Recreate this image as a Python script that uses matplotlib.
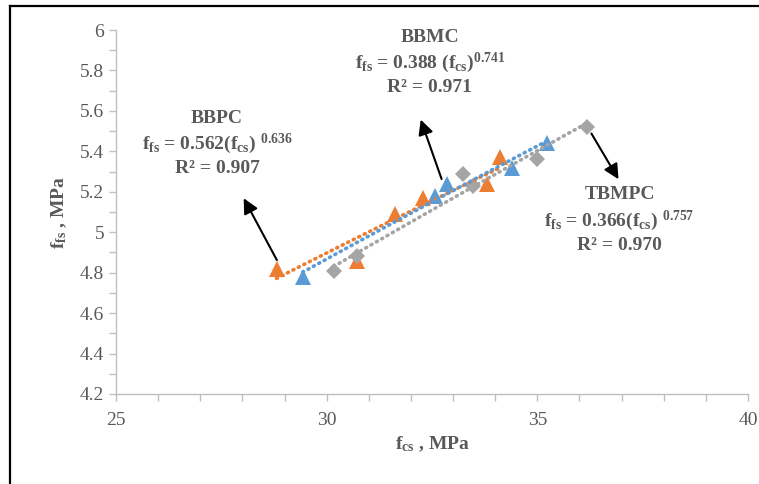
"""Flexural vs compressive strength scatter with power trendlines."""

import numpy as np
import matplotlib

matplotlib.use("Agg")
import matplotlib.pyplot as plt
from matplotlib.lines import Line2D
from matplotlib.ticker import MultipleLocator

plt.rcParams["font.family"] = ["Liberation Serif", "DejaVu Serif"]
plt.rcParams["mathtext.fontset"] = "custom"
plt.rcParams["mathtext.rm"] = "Liberation Serif"
plt.rcParams["mathtext.bf"] = "Liberation Serif:bold"
plt.rcParams["mathtext.default"] = "bf"

# data
bbpc_x = [28.81, 30.71, 31.62, 32.28, 33.80, 34.11]
bbpc_y = [4.82, 4.86, 5.09, 5.17, 5.24, 5.37]
bbmc_x = [29.43, 32.58, 32.85, 34.39, 35.22]
bbmc_y = [4.78, 5.18, 5.24, 5.32, 5.44]
tbmpc_x = [30.17, 30.71, 33.24, 33.47, 34.99, 36.17]
tbmpc_y = [4.81, 4.88, 5.29, 5.23, 5.36, 5.52]

x_ticks = [25, 30, 35, 40]
y_ticks = [4.2, 4.4, 4.6, 4.8, 5.0, 5.2, 5.4, 5.6, 5.8, 6.0]
y_tick_labels = ["4.2", "4.4", "4.6", "4.8", "5", "5.2", "5.4", "5.6", "5.8", "6"]

ORANGE = "#ED7D31"
BLUE = "#5B9BD5"
GRAY = "#A5A5A5"
TEXT = "#595959"
AXIS = "#BFBFBF"

fig = plt.figure(figsize=(7.59, 4.84), dpi=100)
ax = fig.add_axes([0.1528, 0.186, 0.8327, 0.752])


def power_trend(xs, ys):
	"""Fit y = a * x^b in log space and return a smooth curve."""
	b, ln_a = np.polyfit(np.log(xs), np.log(ys), 1)
	xx = np.linspace(min(xs), max(xs), 50)
	return xx, np.exp(ln_a) * xx ** b


series = [
	(bbpc_x, bbpc_y, ORANGE, "^", 11),
	(bbmc_x, bbmc_y, BLUE, "^", 11),
	(tbmpc_x, tbmpc_y, GRAY, "D", 8.5),
]
for xs, ys, color, marker, size in series:
	ax.plot(xs, ys, linestyle="none", marker=marker, markersize=size,
			color=color, markeredgewidth=0, zorder=3)
for xs, ys, color, marker, size in series:
	tx, ty = power_trend(xs, ys)
	ax.plot(tx, ty, color=color, linewidth=2.6, linestyle=(0, (0.3, 1.4)),
			dash_capstyle="round", zorder=4)

ax.set_xlim(25, 40)
ax.set_ylim(4.2, 6.0)
ax.set_xticks(x_ticks)
ax.set_yticks(y_ticks)
ax.set_yticklabels(y_tick_labels)
ax.xaxis.set_minor_locator(MultipleLocator(1))
ax.yaxis.set_minor_locator(MultipleLocator(0.1))
ax.tick_params(which="both", direction="out", color=AXIS, width=1)
ax.tick_params(which="major", length=5, labelsize=14, labelcolor=TEXT)
ax.tick_params(which="minor", length=5)
ax.tick_params(axis="x", pad=8)

for side in ("top", "right"):
	ax.spines[side].set_visible(False)
for side in ("left", "bottom"):
	ax.spines[side].set_color(AXIS)
	ax.spines[side].set_linewidth(1)

ax.set_xlabel(r"f$_{\mathbf{cs}}$ , MPa", fontsize=14, fontweight="bold",
			  color=TEXT, labelpad=4)
ax.set_ylabel(r"f$_{\mathbf{fs}}$ , MPa", fontsize=14, fontweight="bold",
			  color=TEXT, labelpad=8)

# annotations
label_kw = dict(fontsize=14, fontweight="bold", color=TEXT, ha="center",
				va="center", linespacing=1.3)
ax.text(27.4, 5.44,
		"BBPC\n" r"f$_{\mathbf{fs}}$ = 0.562(f$_{\mathbf{cs}}$) $^{0.636}$" "\nR² = 0.907",
		**label_kw)
ax.text(32.45, 5.84,
		"BBMC\n" r"f$_{\mathbf{fs}}$ = 0.388 (f$_{\mathbf{cs}}$)$^{0.741}$" "\nR² = 0.971",
		**label_kw)
ax.text(36.95, 5.06,
		"TBMPC\n" r"f$_{\mathbf{fs}}$ = 0.366(f$_{\mathbf{cs}}$) $^{0.757}$" "\nR² = 0.970",
		**label_kw)

arrow_kw = dict(arrowstyle="-|>,head_length=0.9,head_width=0.45",
				color="black", lw=1.5)
ax.annotate("", xy=(28.0, 5.18), xytext=(28.85, 4.85), arrowprops=arrow_kw)
ax.annotate("", xy=(32.21, 5.57), xytext=(32.75, 5.25), arrowprops=arrow_kw)
ax.annotate("", xy=(36.96, 5.25), xytext=(36.25, 5.5), arrowprops=arrow_kw)

# outer frame (top and left edges visible in the crop)
fig.add_artist(Line2D([10 / 759, 1.0], [1 - 6 / 484, 1 - 6 / 484],
					  color="black", linewidth=1.6, transform=fig.transFigure))
fig.add_artist(Line2D([10 / 759, 10 / 759], [0.0, 1 - 6 / 484],
					  color="black", linewidth=1.6, transform=fig.transFigure))

fig.savefig("out.png", dpi=100)
